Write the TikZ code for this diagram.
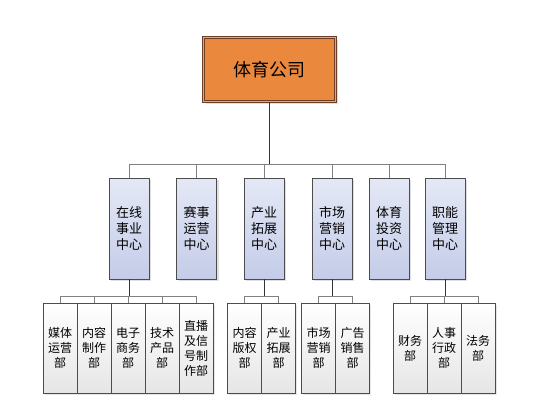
\documentclass[tikz,border=0pt]{standalone}
\usepackage{fontspec}
\setmainfont{Noto Sans CJK SC}
\usetikzlibrary{shadows}
\definecolor{topfill}{RGB}{234,137,62}
\definecolor{topline}{RGB}{110,62,36}
\definecolor{midtop}{RGB}{228,232,246}
\definecolor{midbot}{RGB}{196,204,232}
\tikzset{>=latex}
\tikzset{
    topbox/.style={draw=topline, line width=.8pt, double=topfill!75!white, double distance=1.4pt,
        fill=topfill, minimum width=132pt, minimum height=64pt,
        drop shadow={opacity=.25, shadow xshift=2pt, shadow yshift=-2pt},
        font=\fontsize{18}{20}\selectfont},
    midbox/.style={draw=black!70, line width=.6pt, top color=midtop, bottom color=midbot,
        minimum width=40pt, minimum height=101pt, align=center, inner sep=0pt,
        drop shadow={opacity=.25, shadow xshift=2pt, shadow yshift=-1.5pt},
        font=\fontsize{13}{16}\selectfont},
    deptbox/.style={draw=black!70, line width=.6pt, top color=white, bottom color=black!10,
        minimum width=34pt, minimum height=90pt, align=center, inner sep=0pt,
        drop shadow={opacity=.2, shadow xshift=1.5pt, shadow yshift=-1.5pt},
        font=\fontsize{12}{15}\selectfont},
    trunk/.style={draw=black!80, line width=1pt},
    branch/.style={draw=black!50, line width=.7pt}
}
\begin{document}
\begin{tikzpicture}[x=1pt, y=-1pt]
    \useasboundingbox(0, 0)rectangle(536, 410);
    % company
    \node[topbox](company) at(269.5, 69.5){体育公司};
    % centres
    \node[midbox](c1) at(129, 228.5){在线\\事业\\中心};
    \node[midbox](c2) at(196.5, 228.5){赛事\\运营\\中心};
    \node[midbox](c3) at(264, 228.5){产业\\拓展\\中心};
    \node[midbox](c4) at(332, 228.5){市场\\营销\\中心};
    \node[midbox](c5) at(389, 228.5){体育\\投资\\中心};
    \node[midbox](c6) at(445, 228.5){职能\\管理\\中心};
    \coordinate(bus) at(269.5, 164);
    \draw[trunk](company) -- (bus);
    \foreach \c in {c1, c2, c3, c4, c5, c6}
        \draw[branch](bus) -| (\c.north);
    % departments
    \node[deptbox](d11) at(60, 348){媒体\\运营\\部};
    \node[deptbox](d12) at(94, 348){内容\\制作\\部};
    \node[deptbox](d13) at(128, 348){电子\\商务\\部};
    \node[deptbox](d14) at(162, 348){技术\\产品\\部};
    \node[deptbox](d15) at(196, 348){直播\\及信\\号制\\作部};
    \node[deptbox](d31) at(244.5, 348){内容\\版权\\部};
    \node[deptbox](d32) at(278.5, 348){产业\\拓展\\部};
    \node[deptbox](d41) at(318.5, 348){市场\\营销\\部};
    \node[deptbox](d42) at(352.5, 348){广告\\销售\\部};
    \node[deptbox](d61) at(410, 348){财务\\部};
    \node[deptbox](d62) at(444, 348){人事\\行政\\部};
    \node[deptbox](d63) at(478, 348){法务\\部};
    \coordinate(sub1) at(129, 296);
    \coordinate(sub3) at(264, 296);
    \coordinate(sub4) at(332, 296);
    \coordinate(sub6) at(445, 296);
    \foreach \d in {d11, d12, d13, d14, d15}
        \draw[branch](sub1) -| (\d.north);
    \foreach \d in {d31, d32}
        \draw[branch](sub3) -| (\d.north);
    \foreach \d in {d41, d42}
        \draw[branch](sub4) -| (\d.north);
    \foreach \d in {d61, d62, d63}
        \draw[branch](sub6) -| (\d.north);
    \draw[trunk](c1) -- (sub1);
    \draw[trunk](c3) -- (sub3);
    \draw[trunk](c4) -- (sub4);
    \draw[trunk](c6) -- (sub6);
\end{tikzpicture}
\end{document}
